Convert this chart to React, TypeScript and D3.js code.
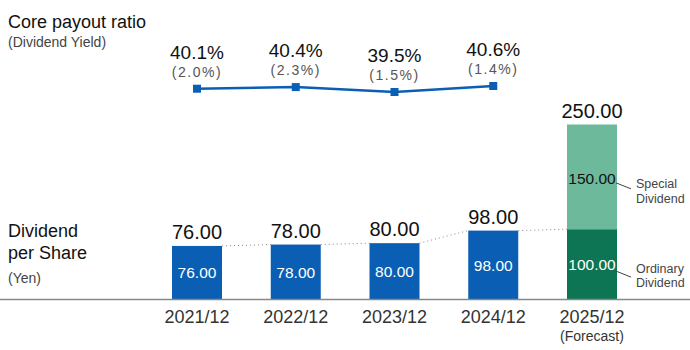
import React from "react";
import * as d3 from "d3";

const categories = ["2021/12", "2022/12", "2023/12", "2024/12", "2025/12"];
const ordinaryDividend = [76, 78, 80, 98, 100];
const specialDividend = [0, 0, 0, 0, 150];
const totalLabels = ["76.00", "78.00", "80.00", "98.00", "250.00"];
const payoutRatio = [40.1, 40.4, 39.5, 40.6];
const dividendYield = [2.0, 2.3, 1.5, 1.4];

const W = 690;
const H = 350;
const FONT = "'Liberation Sans', Arial, Helvetica, sans-serif";
const BLUE = "#0a5fb4";
const DARK_GREEN = "#0d7553";
const LIGHT_GREEN = "#6db99c";

export default function App() {
  const x = d3.scalePoint<string>().domain(categories).range([197, 592]);
  const y = d3.scaleLinear().domain([0, 250]).range([299, 124.5]);
  const yl = d3.scaleLinear().domain([39.5, 40.6]).range([92, 86]);
  const barW = 50;
  const last = categories.length - 1;

  const linePts: [number, number][] = payoutRatio.map((v, i) => [x(categories[i])!, yl(v)]);
  const lineGen = d3.line();

  const tops = ordinaryDividend.map((v) => y(v));

  return (
    <svg width={W} height={H} style={{ position: "absolute", left: 0, top: 0, background: "#fff" }} fontFamily={FONT}>
      {/* left titles */}
      <text x={8} y={28} fontSize={18} fill="#111">Core payout ratio</text>
      <text x={8} y={47} fontSize={14} fill="#444">(Dividend Yield)</text>
      <text x={8} y={237} fontSize={18} fill="#111">Dividend</text>
      <text x={8} y={259} fontSize={18} fill="#111">per Share</text>
      <text x={8} y={283} fontSize={14} fill="#444">(Yen)</text>

      {/* dotted connectors */}
      {categories.slice(0, -1).map((c, i) => (
        <line
          key={"d" + c}
          x1={x(c)! + barW / 2}
          y1={tops[i]}
          x2={x(categories[i + 1])! - barW / 2}
          y2={tops[i + 1]}
          stroke="#888"
          strokeWidth={1}
          strokeDasharray="1,3"
        />
      ))}

      {/* bars */}
      {categories.map((c, i) => {
        const cx = x(c)!;
        const isLast = i === last;
        const ordTop = y(ordinaryDividend[i]);
        const specTop = y(ordinaryDividend[i] + specialDividend[i]);
        return (
          <g key={c}>
            <rect x={cx - barW / 2} y={ordTop} width={barW} height={y(0) - ordTop} fill={isLast ? DARK_GREEN : BLUE} />
            {specialDividend[i] > 0 && (
              <rect x={cx - barW / 2} y={specTop} width={barW} height={ordTop - specTop} fill={LIGHT_GREEN} />
            )}
            <text x={cx} y={(ordTop + y(0)) / 2 + 6} textAnchor="middle" fontSize={15.5} fill="#fff">
              {ordinaryDividend[i].toFixed(2)}
            </text>
            {specialDividend[i] > 0 && (
              <text x={cx} y={(specTop + ordTop) / 2 + 7} textAnchor="middle" fontSize={15.5} fill="#111">
                {specialDividend[i].toFixed(2)}
              </text>
            )}
            <text x={cx} y={specTop - 7} textAnchor="middle" fontSize={20} fill="#111">
              {totalLabels[i]}
            </text>
            <text x={cx} y={323} textAnchor="middle" fontSize={18} fill="#333">
              {c}
            </text>
            {isLast && (
              <text x={cx} y={341} textAnchor="middle" fontSize={14} fill="#333">(Forecast)</text>
            )}
          </g>
        );
      })}

      {/* annotations for 2025 */}
      {(() => {
        const cx = x(categories[last])!;
        const ordTop = y(ordinaryDividend[last]);
        const specTop = y(ordinaryDividend[last] + specialDividend[last]);
        const sMid = (specTop + ordTop) / 2;
        const oMid = (ordTop + y(0)) / 2;
        const x0 = cx + barW / 2 - 1;
        return (
          <g fontSize={12.5} fill="#444">
            <line x1={x0} y1={sMid + 6} x2={x0 + 15} y2={sMid + 12} stroke="#444" strokeWidth={1} />
            <text x={636} y={sMid + 11}>Special</text>
            <text x={636} y={sMid + 26}>Dividend</text>
            <line x1={x0} y1={oMid + 7} x2={x0 + 15} y2={oMid + 13} stroke="#444" strokeWidth={1} />
            <text x={636} y={oMid + 9}>Ordinary</text>
            <text x={636} y={oMid + 23}>Dividend</text>
          </g>
        );
      })()}

      {/* axis */}
      <line x1={0} x2={W} y1={y(0) + 0.5} y2={y(0) + 0.5} stroke="#888" strokeWidth={1.5} />

      {/* payout line */}
      <path d={lineGen(linePts) || ""} fill="none" stroke={BLUE} strokeWidth={2.5} />
      {linePts.map(([px, py], i) => (
        <g key={"p" + i}>
          <rect x={px - 4} y={py - 4} width={8} height={8} fill={BLUE} />
          <text x={px} y={py - 30} textAnchor="middle" fontSize={19} fill="#111">
            {payoutRatio[i].toFixed(1)}%
          </text>
          <text x={px} y={py - 12} textAnchor="middle" fontSize={14} fill="#555" letterSpacing={1.5}>
            ({dividendYield[i].toFixed(1)}%)
          </text>
        </g>
      ))}
    </svg>
  );
}
